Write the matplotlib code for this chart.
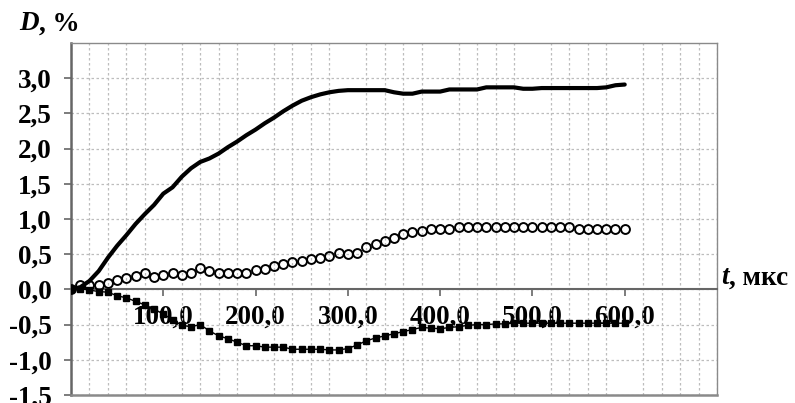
import matplotlib
matplotlib.use("Agg")
import matplotlib.pyplot as plt
from matplotlib.ticker import MultipleLocator, FixedLocator

t = list(range(0, 601, 10))

solid = [0.0, 0.03, 0.12, 0.26, 0.45, 0.62, 0.77, 0.93, 1.07, 1.2,
         1.36, 1.45, 1.6, 1.72, 1.81, 1.86, 1.93, 2.02, 2.1, 2.19,
         2.27, 2.36, 2.44, 2.53, 2.61, 2.68, 2.73, 2.77, 2.8, 2.82,
         2.83, 2.83, 2.83, 2.83, 2.83, 2.8, 2.78, 2.78, 2.81, 2.81,
         2.81, 2.84, 2.84, 2.84, 2.84, 2.87, 2.87, 2.87, 2.87, 2.85,
         2.85, 2.86, 2.86, 2.86, 2.86, 2.86, 2.86, 2.86, 2.87, 2.9, 2.91]

circles = [0.0, 0.06, 0.06, 0.06, 0.09, 0.13, 0.16, 0.19, 0.24, 0.17,
           0.21, 0.24, 0.21, 0.24, 0.31, 0.26, 0.23, 0.23, 0.23, 0.23,
           0.27, 0.29, 0.33, 0.36, 0.39, 0.41, 0.43, 0.45, 0.48, 0.51,
           0.5, 0.52, 0.6, 0.64, 0.69, 0.73, 0.78, 0.81, 0.83, 0.86,
           0.86, 0.86, 0.89, 0.88, 0.88, 0.88, 0.88, 0.88, 0.88, 0.88,
           0.88, 0.88, 0.88, 0.88, 0.88, 0.86, 0.86, 0.86, 0.86, 0.86, 0.86]

squares = [0.0, 0.01, -0.01, -0.03, -0.04, -0.09, -0.12, -0.17, -0.22, -0.28,
           -0.35, -0.43, -0.51, -0.53, -0.5, -0.59, -0.66, -0.7, -0.75, -0.8,
           -0.8, -0.82, -0.82, -0.82, -0.85, -0.85, -0.85, -0.85, -0.86, -0.86,
           -0.84, -0.79, -0.73, -0.69, -0.66, -0.63, -0.6, -0.57, -0.54, -0.55,
           -0.56, -0.54, -0.53, -0.51, -0.5, -0.5, -0.49, -0.49, -0.48, -0.48,
           -0.48, -0.48, -0.48, -0.48, -0.48, -0.48, -0.48, -0.48, -0.48, -0.48, -0.48]

xticks = [100, 200, 300, 400, 500, 600]
xticklabels = ["100,0", "200,0", "300,0", "400,0", "500,0", "600,0"]
yticks = [-1.5, -1.0, -0.5, 0.0, 0.5, 1.0, 1.5, 2.0, 2.5, 3.0]
yticklabels = ["-1,5", "-1,0", "-0,5", "0,0", "0,5", "1,0", "1,5", "2,0", "2,5", "3,0"]

FONT = "Liberation Serif"
FS = 19.5

fig = plt.figure(figsize=(7.95, 4.03), dpi=100)
ax = fig.add_axes([71 / 795, 1 - 395 / 403, (717 - 71) / 795, (395 - 43) / 403])

ax.set_xlim(0, 700)
ax.set_ylim(-1.5, 3.5)

# grid
ax.xaxis.set_minor_locator(MultipleLocator(20))
ax.grid(which="minor", axis="x", color="#bdbdbd", linestyle=(0, (2, 2)), linewidth=0.9)
ax.yaxis.set_major_locator(FixedLocator(yticks))
ax.grid(which="major", axis="y", color="#bdbdbd", linestyle=(0, (2, 2)), linewidth=0.9)
ax.set_axisbelow(True)
ax.tick_params(axis="x", which="minor", length=0)

# data
ax.plot(t, squares, color="black", linewidth=1.0, marker="s", markersize=4.3,
        markerfacecolor="black", markeredgecolor="black", zorder=3)
ax.plot(t, circles, linestyle="none", marker="o", markersize=6.4,
        markerfacecolor="none", markeredgecolor="black", markeredgewidth=1.4, zorder=3)
ax.plot(t, solid, color="black", linewidth=3.0, solid_capstyle="round", zorder=4)

# spines
for s in ["top", "right"]:
    ax.spines[s].set_color("#8a8a8a")
    ax.spines[s].set_linewidth(1.0)
ax.spines["left"].set_color("#666666")
ax.spines["left"].set_linewidth(1.8)
ax.spines["bottom"].set_position(("data", 0))
ax.spines["bottom"].set_color("#666666")
ax.spines["bottom"].set_linewidth(1.5)
ax.axhline(-1.5, color="#8a8a8a", linewidth=1.8, clip_on=False, zorder=5)

# ticks
ax.set_xticks(xticks)
ax.set_xticklabels(xticklabels)
ax.set_yticks(yticks)
ax.set_yticklabels(yticklabels)
ax.tick_params(axis="x", which="major", direction="out", length=5, width=1.2,
               color="#666666", pad=6)
ax.tick_params(axis="y", which="major", direction="out", length=5, width=1.2,
               color="#666666", pad=9)
for lab in ax.get_xticklabels() + ax.get_yticklabels():
    lab.set_fontfamily(FONT)
    lab.set_fontweight("bold")
    lab.set_fontsize(FS)
    lab.set_zorder(6)

# axis titles
fig.canvas.draw()
renderer = fig.canvas.get_renderer()
d = fig.text(19 / 795, 1 - 24 / 403, "D", family=FONT, weight="bold", style="italic",
             fontsize=FS, va="center", ha="left")
bb = d.get_window_extent(renderer)
fig.text(bb.x1 / 795 + 0.001, 1 - 24 / 403, ", %", family=FONT, weight="bold",
         fontsize=FS, va="center", ha="left")

tt = fig.text(721 / 795, 1 - 278 / 403, "t", family=FONT, weight="bold", style="italic",
              fontsize=FS, va="center", ha="left")
bb2 = tt.get_window_extent(renderer)
fig.text(bb2.x1 / 795 + 0.001, 1 - 278 / 403, ", мкс", family=FONT, weight="bold",
         fontsize=FS, va="center", ha="left")

fig.savefig("out.png", dpi=100)
